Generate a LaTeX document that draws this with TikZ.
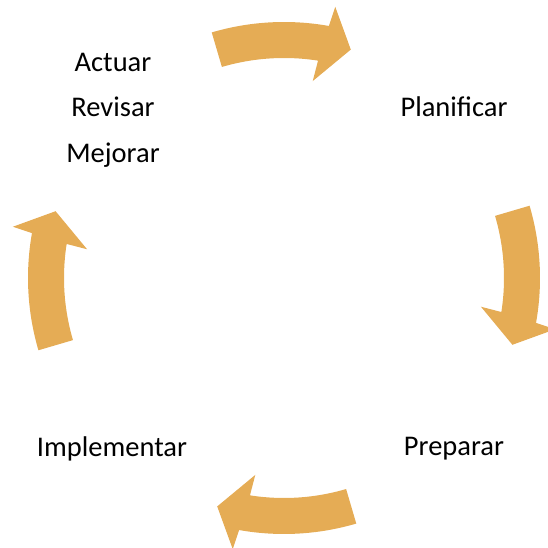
\documentclass[tikz,border=0pt]{standalone}
\usepackage{fontspec}
\setmainfont{Carlito}
\begin{document}
\begin{tikzpicture}[x=1pt,y=1pt,
  cyclearrow/.style={fill={rgb,255:red,229;green,172;blue,85}, draw=none},
  steplabel/.style={font=\fontsize{28.5}{45.5}\selectfont, align=center, inner sep=0pt}]
\useasboundingbox (0,0) rectangle (548,548);
\clip (0,0) rectangle (548,548);
% four curved block arrows around the centre, running clockwise
\begin{scope}[shift={(284,270)}]
\foreach \a/\nm in {90/top,0/right,-90/bottom,180/left}{
  \fill[cyclearrow] (\a+16.4:256pt) arc[start angle=\a+16.4, end angle=\a-10.1, radius=256pt]
    -- (\a-10.7:276pt) -- (\a-16.3:238pt) -- (\a-8.3:199pt) -- (\a-8.9:220pt)
    arc[start angle=\a-8.9, end angle=\a+16.4, radius=220pt] -- cycle;
}
\end{scope}
% stage labels
\node[steplabel] (act) at (113,438) {Actuar\\Revisar\\Mejorar};
\node[steplabel] (plan) at (454,441) {Planificar};
\node[steplabel] (prep) at (454,99) {Preparar};
\node[steplabel] (impl) at (112,99) {Implementar};
\end{tikzpicture}
\end{document}
